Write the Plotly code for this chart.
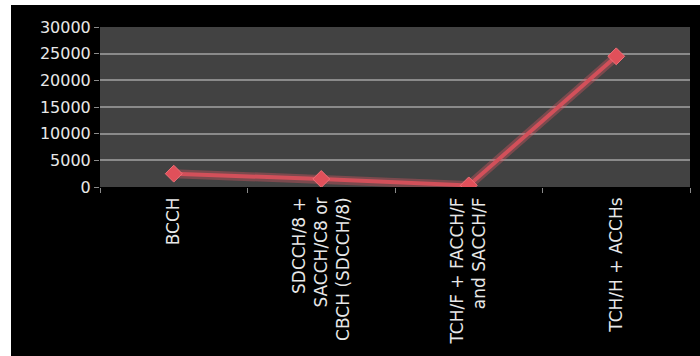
import plotly.graph_objects as go

categories = [
    "BCCH",
    "SDCCH/8 +<br>SACCH/C8 or<br>CBCH (SDCCH/8)",
    "TCH/F + FACCH/F<br>and SACCH/F",
    "TCH/H + ACCHs",
]
values = [2500, 1500, 300, 24500]
y_ticks = [0, 5000, 10000, 15000, 20000, 25000, 30000]

W, H = 700, 356
L, R, T, B = 100, 10, 27, 169
pw, ph = W - L - R, H - T - B

fig = go.Figure()

# soft glow under the line
fig.add_trace(go.Scatter(
    x=categories, y=values, mode="lines",
    line=dict(color="rgba(230,90,100,0.35)", width=9),
    hoverinfo="skip", showlegend=False,
))
fig.add_trace(go.Scatter(
    x=categories, y=values, mode="lines+markers",
    line=dict(color="#d2505a", width=4),
    marker=dict(symbol="diamond", size=13, color="#e0505a",
                line=dict(color="#f07078", width=1)),
    showlegend=False,
))

# thin white strips along the left and top edges of the black page
fig.add_shape(type="rect", xref="paper", yref="paper", layer="below",
              x0=-L / pw - 0.01, x1=(11 - L) / pw,
              y0=-B / ph - 0.05, y1=1 + T / ph + 0.05,
              fillcolor="white", line=dict(width=0))
fig.add_shape(type="rect", xref="paper", yref="paper", layer="below",
              x0=-L / pw - 0.01, x1=1 + R / pw + 0.01,
              y0=1 + (T - 5) / ph, y1=1 + T / ph + 0.05,
              fillcolor="white", line=dict(width=0))

fig.update_layout(
    width=W, height=H,
    margin=dict(l=L, r=R, t=T, b=B),
    paper_bgcolor="black",
    plot_bgcolor="#424242",
    font=dict(family="DejaVu Sans", color="#e8e8e8", size=12),
    xaxis=dict(
        type="category", range=[-0.5, 3.5], tickangle=-90, ticks="outside",
        tickson="boundaries", ticklen=5, tickcolor="#8a8a8a",
        showgrid=False, showline=False, automargin=False,
        ticklabelstandoff=6,
        tickfont=dict(size=17, color="#e8e8e8"),
    ),
    yaxis=dict(
        range=[0, 30000], tickvals=y_ticks, tickformat="d", ticks="outside",
        ticklen=5, tickcolor="#8a8a8a", gridcolor="#8a8a8a", gridwidth=1.5,
        zeroline=False, showline=False, automargin=False,
        tickfont=dict(size=16, color="#e8e8e8"),
    ),
)

fig.write_html("out.html")
